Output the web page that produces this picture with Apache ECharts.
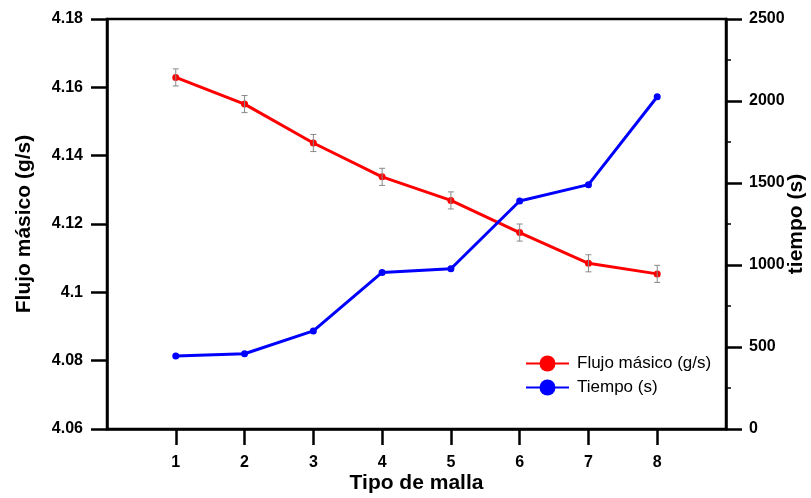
<!DOCTYPE html>
<html>
<head>
<meta charset="utf-8">
<script src="https://cdn.jsdelivr.net/npm/echarts@6/dist/echarts.min.js"></script>
<style>
  html, body { margin: 0; padding: 0; background: #fff; overflow: hidden; }
  #chart { width: 811px; height: 498px; }
</style>
</head>
<body>
<div id="chart"></div>
<script>
// Mesh types along the x axis (0 and 9 are padding slots without labels)
const axisSlots = ['0', '1', '2', '3', '4', '5', '6', '7', '8', '9'];
const mallas = ['1', '2', '3', '4', '5', '6', '7', '8'];
// Mass flow (g/s) per mesh and its uncertainty
const flujo = [4.1629, 4.1551, 4.1437, 4.1338, 4.1269, 4.1175, 4.1085, 4.1054];
const flujoError = [0.0025, 0.0025, 0.0025, 0.0025, 0.0025, 0.0025, 0.0025, 0.0025];
// Computation time (s) per mesh
const tiempo = [445, 459, 598, 955, 977, 1390, 1490, 2026];

const FONT = '"Liberation Sans", Arial, sans-serif';
const TICK_FONT = { fontFamily: FONT, fontSize: 16, fontWeight: 'bold', color: '#000' };
const NAME_FONT = { fontFamily: FONT, fontSize: 21, fontWeight: 'bold', color: '#000' };

const flujoData = mallas.map((m, i) => [m, flujo[i]]);
const tiempoData = mallas.map((m, i) => [m, tiempo[i]]);
const errorData = mallas.map((m, i) => [m, flujo[i] - flujoError[i], flujo[i] + flujoError[i]]);

const chart = echarts.init(document.getElementById('chart'), null, { width: 811, height: 498 });
chart.setOption({
  animation: false,
  backgroundColor: '#fff',
  grid: {
    left: 107, right: 85, top: 19, bottom: 69,
    outerBoundsMode: 'none',
    containLabel: false,
    show: true, borderColor: '#000', borderWidth: 2.5, backgroundColor: 'transparent'
  },
  legend: {
    left: 525, top: 355, orient: 'vertical', padding: 0,
    itemWidth: 43, itemHeight: 20, itemGap: 7,
    textStyle: { fontFamily: FONT, fontSize: 17, color: '#000', padding: [0, 0, 0, 3] },
    data: ['Flujo másico (g/s)', 'Tiempo (s)']
  },
  xAxis: {
    type: 'category',
    data: axisSlots,
    boundaryGap: false,
    name: 'Tipo de malla',
    nameLocation: 'middle',
    nameGap: 44,
    nameMoveOverlap: false,
    nameTextStyle: NAME_FONT,
    axisLine: { lineStyle: { color: '#000', width: 2.5 } },
    axisTick: { length: 16, lineStyle: { color: '#000', width: 2.5 },
      interval: (i) => i >= 1 && i <= 8 },
    axisLabel: Object.assign({ margin: 26, interval: (i) => i >= 1 && i <= 8 }, TICK_FONT),
    splitLine: { show: false }
  },
  yAxis: [
    {
      type: 'value', position: 'left',
      min: 4.06, max: 4.18, interval: 0.02,
      name: 'Flujo másico (g/s)', nameLocation: 'middle', nameGap: 72, nameRotate: 90,
      nameMoveOverlap: false,
      nameTextStyle: NAME_FONT,
      axisLine: { show: true, lineStyle: { color: '#000', width: 2.5 } },
      axisTick: { show: true, length: 16, lineStyle: { color: '#000', width: 2.5 } },
      axisLabel: Object.assign({ margin: 24,
        formatter: (v) => String(Math.round(v * 100) / 100) }, TICK_FONT),
      splitLine: { show: false }
    },
    {
      type: 'value', position: 'right',
      min: 0, max: 2500, interval: 500,
      name: 'tiempo (s)', nameLocation: 'middle', nameGap: 60, nameRotate: 90,
      nameMoveOverlap: false,
      nameTextStyle: NAME_FONT,
      axisLine: { show: true, lineStyle: { color: '#000', width: 2.5 } },
      axisTick: { show: true, length: 16, lineStyle: { color: '#000', width: 2.5 } },
      minorTick: { show: true, splitNumber: 2, length: 5, lineStyle: { color: '#000', width: 1.5 } },
      axisLabel: Object.assign({ margin: 23, formatter: (v) => String(v) }, TICK_FONT),
      splitLine: { show: false }
    }
  ],
  series: [
    {
      name: 'Flujo másico (g/s)',
      type: 'line',
      yAxisIndex: 0,
      data: flujoData,
      symbol: 'circle', symbolSize: 7,
      lineStyle: { color: '#ff0000', width: 3 },
      itemStyle: { color: '#ff0000' },
      z: 3
    },
    {
      name: 'Tiempo (s)',
      type: 'line',
      yAxisIndex: 1,
      data: tiempoData,
      symbol: 'circle', symbolSize: 7,
      lineStyle: { color: '#0000ff', width: 3 },
      itemStyle: { color: '#0000ff' },
      z: 3
    },
    {
      name: 'error',
      type: 'custom',
      yAxisIndex: 0,
      data: errorData,
      z: 4,
      renderItem: function (params, api) {
        const x = api.value(0);
        const lo = api.coord([x, api.value(1)]);
        const hi = api.coord([x, api.value(2)]);
        const cap = 3;
        const style = { stroke: '#888', lineWidth: 1 };
        return {
          type: 'group',
          children: [
            { type: 'line', shape: { x1: lo[0], y1: lo[1], x2: hi[0], y2: hi[1] }, style },
            { type: 'line', shape: { x1: lo[0] - cap, y1: lo[1], x2: lo[0] + cap, y2: lo[1] }, style },
            { type: 'line', shape: { x1: hi[0] - cap, y1: hi[1], x2: hi[0] + cap, y2: hi[1] }, style }
          ]
        };
      }
    }
  ]
});
</script>
</body>
</html>
